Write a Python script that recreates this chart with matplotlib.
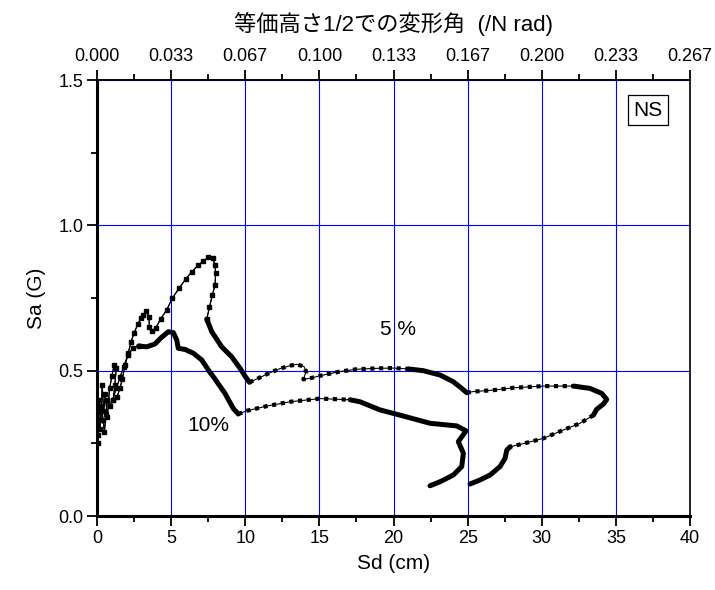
#!/usr/bin/env python3
"""Sd-Sa capacity-spectrum style plot (NS), 5 % and 10 % damping curves."""

import matplotlib
matplotlib.use("Agg")
import matplotlib.pyplot as plt
from matplotlib.ticker import MultipleLocator, FixedLocator

plt.rcParams["font.family"] = ["Liberation Sans", "Noto Sans CJK JP", "DejaVu Sans"]

# --- data ------------------------------------------------------------------
# 5 % damping curve
sd_5 = [0.05, 0.15, 0.25, 0.35, 0.45, 0.55, 0.7, 0.85, 1.0, 1.15, 1.3, 1.2, 1.1,
        1.35, 1.55, 1.7, 1.9, 2.1, 2.3, 2.5, 2.75, 2.95, 3.12, 3.31, 3.5, 3.53,
        3.69, 3.98, 4.29, 4.7, 5.08, 5.55, 5.98, 6.39, 6.83, 7.17, 7.51, 7.8,
        7.96, 8.0, 7.96, 7.78, 7.58, 7.4,
        7.74, 8.41, 9.08, 9.65, 10.0, 10.28,
        10.88, 11.67, 12.34, 13.02, 13.47, 13.96, 14.1, 13.92, 14.37, 15.26,
        16.39, 17.52, 18.87, 20.0, 21.0,
        22.01, 23.14, 24.03, 24.6, 24.94,
        25.38, 26.73, 28.08, 30.1, 32.13,
        33.25, 34.04, 34.38, 34.15, 33.7, 33.48,
        32.58, 31.46, 30.1, 28.98, 27.86,
        27.64, 27.52, 27.18, 26.51, 25.83, 25.16]
sa_5 = [0.28, 0.40, 0.33, 0.45, 0.36, 0.42, 0.34, 0.44, 0.48, 0.52, 0.51, 0.45, 0.40,
        0.41, 0.44, 0.47, 0.52, 0.56, 0.60, 0.63, 0.66, 0.68, 0.69, 0.705, 0.686, 0.651,
        0.636, 0.648, 0.678, 0.709, 0.749, 0.785, 0.815, 0.84, 0.863, 0.877, 0.89, 0.889,
        0.863, 0.835, 0.795, 0.76, 0.718, 0.677,
        0.634, 0.582, 0.548, 0.508, 0.48, 0.46,
        0.474, 0.493, 0.507, 0.517, 0.522, 0.514, 0.497, 0.470, 0.474, 0.485,
        0.497, 0.505, 0.508, 0.509, 0.506,
        0.50, 0.485, 0.462, 0.439, 0.424,
        0.428, 0.433, 0.441, 0.447, 0.447,
        0.439, 0.422, 0.401, 0.385, 0.367, 0.347,
        0.319, 0.296, 0.267, 0.252, 0.238,
        0.227, 0.198, 0.17, 0.141, 0.124, 0.11]

# 10 % damping curve
sd_10 = [0.05, 0.1, 0.2, 0.3, 0.4, 0.5, 0.6, 0.7, 0.85, 1.05, 1.3, 1.57, 1.8, 2.09,
         2.41, 2.81,
         3.35, 3.91, 4.36, 4.81, 5.15, 5.38, 5.48, 5.94, 6.5, 7.06, 7.62, 7.85,
         8.63, 9.19, 9.53,
         10.1, 11.45, 13.02, 15.04, 17.07,
         17.74, 19.09, 20.66, 22.46, 24.26, 24.89, 24.37, 24.71, 24.6, 24.03,
         23.14, 22.46]
sa_10 = [0.25, 0.36, 0.30, 0.38, 0.33, 0.29, 0.35, 0.40, 0.38, 0.40, 0.44, 0.479,
         0.514, 0.554, 0.577, 0.585,
         0.582, 0.592, 0.615, 0.634, 0.631, 0.605, 0.577, 0.573, 0.56, 0.537, 0.494,
         0.479, 0.422, 0.37, 0.351,
         0.362, 0.378, 0.393, 0.404, 0.40,
         0.393, 0.365, 0.344, 0.319, 0.31, 0.293, 0.256, 0.216, 0.17, 0.141,
         0.118, 0.104]

top_tick_labels = ["0.000", "0.033", "0.067", "0.100", "0.133", "0.167",
                   "0.200", "0.233", "0.267"]

# how each stretch of the curve looks (index ranges, inclusive)
SEGMENTS_5 = [(0, 43, "sparse"), (43, 49, "dense"), (49, 64, "dotted"),
              (64, 69, "dense"), (69, 74, "dotted"), (74, 80, "dense"),
              (80, 85, "dotted"), (85, 91, "dense")]
SEGMENTS_10 = [(0, 15, "sparse"), (15, 30, "dense"), (30, 35, "dotted"),
               (35, 47, "dense")]


def draw_curve(ax, sd, sa, segments):
    ax.plot(sd, sa, color="black", lw=0.8, zorder=3)
    for i0, i1, kind in segments:
        xs, ys = sd[i0:i1 + 1], sa[i0:i1 + 1]
        if kind == "sparse":
            ax.plot(xs, ys, color="black", lw=0.8, marker="s", ms=3.0,
                    linestyle="-", zorder=4)
        elif kind == "dense":
            ax.plot(xs, ys, color="black", lw=3.6, solid_capstyle="round",
                    solid_joinstyle="round", zorder=4)
        else:
            ax.plot(xs, ys, color="black", lw=3.0, linestyle=(0, (1.0, 1.1)),
                    dash_capstyle="butt", zorder=4)


def main():
    fig = plt.figure(figsize=(7.15, 5.9), dpi=100)
    ax = fig.add_axes([0.1357, 0.1254, 0.8294, 0.739])

    ax.set_xlim(0, 40)
    ax.set_ylim(0, 1.5)

    ax.grid(True, which="major", color="blue", lw=0.8)
    ax.set_axisbelow(True)

    draw_curve(ax, sd_5, sa_5, SEGMENTS_5)
    draw_curve(ax, sd_10, sa_10, SEGMENTS_10)

    ax.xaxis.set_major_locator(MultipleLocator(5))
    ax.xaxis.set_minor_locator(MultipleLocator(2.5))
    ax.yaxis.set_major_locator(MultipleLocator(0.5))
    ax.yaxis.set_minor_locator(MultipleLocator(0.25))
    ax.yaxis.set_major_formatter(plt.FormatStrFormatter("%.1f"))

    ax.tick_params(which="major", direction="out", length=7, width=1.3,
                   labelsize=13, pad=3)
    ax.tick_params(which="minor", direction="out", length=4, width=1.3)
    ax.tick_params(top=False, right=False)

    for side in ("left", "bottom"):
        ax.spines[side].set_linewidth(2.2)
    for side in ("top", "right"):
        ax.spines[side].set_linewidth(1.2)

    ax.set_xlabel("Sd (cm)", fontsize=15, labelpad=5)
    ax.set_ylabel("Sa (G)", fontsize=15, labelpad=9)

    # top axis: deformation angle at half the equivalent height
    top = ax.secondary_xaxis("top", functions=(lambda x: x / 150.0,
                                               lambda x: x * 150.0))
    top.xaxis.set_major_locator(FixedLocator([k * 5 / 150.0 for k in range(9)]))
    top.xaxis.set_minor_locator(FixedLocator([(k + 0.5) * 5 / 150.0 for k in range(8)]))
    top.set_xticklabels(top_tick_labels)
    top.tick_params(which="major", direction="out", length=7, width=1.3,
                    labelsize=13, pad=4)
    top.tick_params(which="minor", direction="out", length=4, width=1.3)
    top.spines["top"].set_linewidth(1.2)
    top.set_xlabel("等価高さ1/2での変形角  (/N rad)", fontsize=16, labelpad=12)

    ax.text(20.3, 0.64, "5 %", fontsize=15, ha="center", va="center", zorder=5)
    ax.text(7.5, 0.31, "10%", fontsize=15, ha="center", va="center", zorder=5)
    ax.text(0.929, 0.931, "NS", transform=ax.transAxes, fontsize=15,
            ha="center", va="center", zorder=5,
            bbox=dict(facecolor="white", edgecolor="black", lw=0.9,
                      boxstyle="square,pad=0.25"))

    fig.savefig("out.png", dpi=100)


if __name__ == "__main__":
    main()
